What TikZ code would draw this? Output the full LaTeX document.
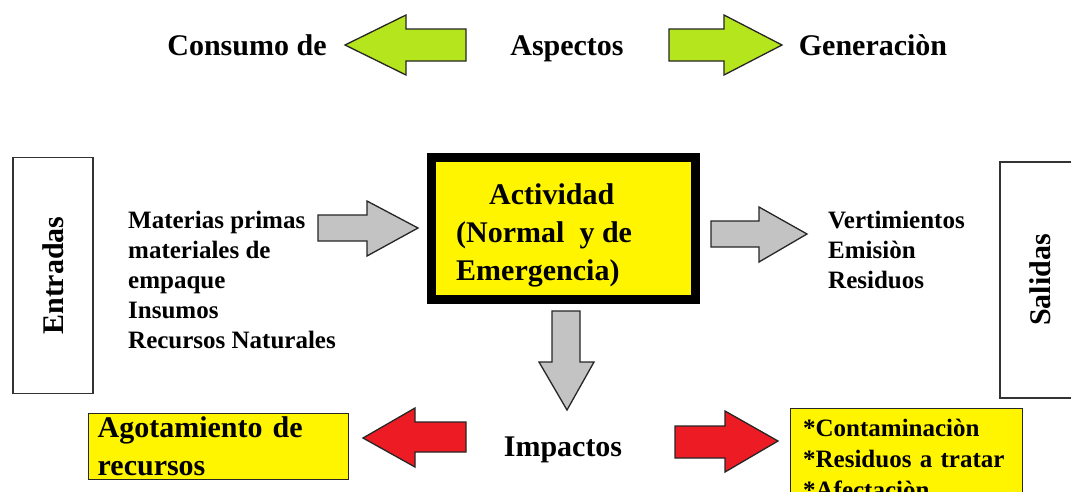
\documentclass[tikz,border=0pt]{standalone}
\usepackage{fontspec}
\setmainfont{Liberation Serif}
\usetikzlibrary{positioning}

\definecolor{limegreen}{RGB}{181,230,29}
\definecolor{arrowgray}{RGB}{195,195,195}
\definecolor{hotred}{RGB}{237,28,36}
\definecolor{boxyellow}{RGB}{255,245,0}

\tikzset{
  bigtxt/.style={font=\fontsize{30}{35}\selectfont\bfseries, inner sep=0pt},
  listtxt/.style={font=\fontsize{25}{30}\selectfont\bfseries, align=left, inner sep=0pt},
  sidebox/.style={draw=black!80, line width=1.5pt, rotate=90, minimum width=236pt, minimum height=80pt,
    font=\fontsize{30}{35}\selectfont\bfseries},
  ybox/.style={draw=black!85, line width=1.3pt, fill=boxyellow, anchor=north west, align=left},
  blockarr/.style={draw=black!85, line width=1.3pt, line join=miter},
}

\begin{document}
\begin{tikzpicture}[x=1pt, y=-1pt]
  \clip (0,0) rectangle (1071,491);
  \fill[white] (0,0) rectangle (1071,491);

  % aspectos
  \node[bigtxt, anchor=base] (consumo) at (247,55) {Consumo de};
  \node[bigtxt, anchor=base] (aspectos) at (567,55) {Aspectos};
  \node[bigtxt, anchor=base] (generacion) at (873,55) {Generaciòn};
  \draw[blockarr, fill=limegreen] (345,45) -- (406,15) -- (406,29) -- (466,29) -- (466,61) -- (406,61) -- (406,75) -- cycle;
  \draw[blockarr, fill=limegreen] (669,29) -- (724,29) -- (724,15) -- (782,45) -- (724,75) -- (724,61) -- (669,61) -- cycle;

  % entradas / salidas
  \node[sidebox] (entradas) at (53,275.5) {Entradas};
  \node[sidebox] (salidas) at (1040,280) {Salidas};

  \node[listtxt, anchor=north west] (insumos) at (128,211)
    {Materias primas\\materiales de\\empaque\\Insumos\\Recursos Naturales};
  \node[listtxt, anchor=north west] (vertim) at (828,211)
    {Vertimientos\\Emisiòn\\Residuos};

  % actividad
  \node[draw=black, line width=9pt, fill=boxyellow, minimum width=264pt, minimum height=142pt,
    inner sep=0pt] (actbox) at (563.5,228.5) {};
  \node[bigtxt, font=\fontsize{30}{38}\selectfont\bfseries, align=left, anchor=north west] (actividad) at (456,183)
    {\hspace*{33pt}Actividad\\(Normal\ \ y de\\Emergencia)};

  \draw[blockarr, fill=arrowgray] (318,215) -- (367,215) -- (367,201) -- (418,228) -- (367,256) -- (367,241) -- (318,241) -- cycle;
  \draw[blockarr, fill=arrowgray] (711,221) -- (759,221) -- (759,207) -- (807,234) -- (759,262) -- (759,247) -- (711,247) -- cycle;
  \draw[blockarr, fill=arrowgray] (552,311) -- (580,311) -- (580,362) -- (594,362) -- (567,410) -- (539,362) -- (552,362) -- cycle;

  % impactos
  \node[bigtxt, anchor=base] (impactos) at (563,456) {Impactos};
  \draw[blockarr, fill=hotred] (363,438) -- (415,408) -- (415,422) -- (466,422) -- (466,452) -- (415,452) -- (415,467) -- cycle;
  \draw[blockarr, fill=hotred] (675,426) -- (725,426) -- (725,411) -- (778,441) -- (725,472) -- (725,458) -- (675,458) -- cycle;

  \node[ybox, font=\fontsize{30}{38}\selectfont\bfseries, text width=242pt, inner xsep=9pt, inner ysep=3.5pt]
    (agotamiento) at (88,413) {Agotamiento de\\recursos};
  \node[ybox, font=\fontsize{25}{31}\selectfont\bfseries, text width=207pt, inner xsep=12.5pt, inner ysep=5.5pt,
    minimum height=100pt] (contaminacion) at (790,408)
    {{*}Contaminaciòn\\{*}Residuos a tratar\\{*}Afectaciòn};
\end{tikzpicture}
\end{document}
